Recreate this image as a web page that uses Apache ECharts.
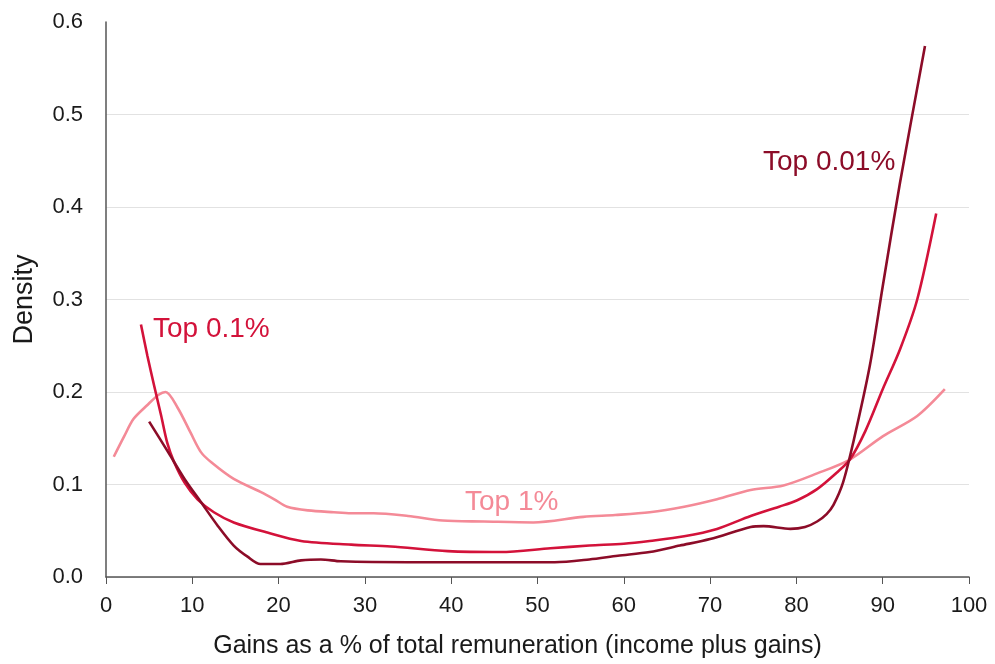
<!DOCTYPE html>
<html><head><meta charset="utf-8">
<script src="https://cdn.jsdelivr.net/npm/echarts@6/dist/echarts.min.js"></script>
<style>html,body{margin:0;padding:0;background:#fff}#c{width:995px;height:664px}</style>
</head><body><div id="c"></div>
<script>
const xTicks = [0,10,20,30,40,50,60,70,80,90,100];
const yTicks = [0,0.1,0.2,0.3,0.4,0.5,0.6];
const top1 = [[0.9,0.13],[2.1,0.152],[3.2,0.171],[4.8,0.186],[6.1,0.197],[6.9,0.2],[8.3,0.183],[9.8,0.156],[11,0.135],[12.2,0.124],[14.8,0.106],[17.9,0.092],[19.5,0.084],[21,0.076],[23.4,0.072],[26.4,0.07],[28.4,0.069],[31,0.069],[35,0.066],[39,0.061],[43.8,0.06],[49.5,0.059],[55.3,0.065],[59,0.067],[63,0.07],[67,0.076],[70.8,0.084],[74.7,0.094],[78.5,0.099],[82.4,0.112],[86.2,0.127],[90,0.152],[94,0.174],[97.2,0.203]];
const top01 = [[4.05,0.273],[4.8,0.239],[5.6,0.206],[6.4,0.174],[7.1,0.145],[7.9,0.124],[9.1,0.102],[10.6,0.084],[12.5,0.07],[14.8,0.059],[18.7,0.048],[22.6,0.039],[28.4,0.035],[33,0.033],[39.6,0.028],[45.7,0.027],[51.5,0.031],[56,0.034],[60,0.036],[63,0.039],[67,0.044],[70.8,0.052],[74.7,0.066],[78,0.076],[80.1,0.083],[82.4,0.095],[84.7,0.113],[86.2,0.127],[88,0.158],[90,0.203],[92,0.246],[94,0.3],[96.2,0.393]];
const top001 = [[5,0.168],[7.2,0.135],[9.1,0.106],[11,0.081],[12.9,0.056],[14.8,0.034],[16.4,0.022],[17.9,0.014],[20.2,0.014],[22.6,0.018],[24.9,0.019],[27.2,0.017],[35,0.016],[45,0.016],[52,0.016],[56,0.019],[59.3,0.023],[63,0.027],[66.5,0.034],[70,0.041],[74.7,0.054],[76.2,0.055],[79.3,0.052],[81,0.054],[82.4,0.06],[83.5,0.068],[84.3,0.078],[85.4,0.102],[86.6,0.146],[88.5,0.228],[90,0.314],[92,0.426],[94.9,0.574]];
const names = ['Top 1%','Top 0.1%','Top 0.01%'];
const colors = ['#f48a97','#d3123a','#8c0c28'];
const font = 'Liberation Sans, Arial, sans-serif';
const chart = echarts.init(document.getElementById('c'));
const mk = (name, data, color) => ({
  type:'line', name, data, smooth:0.3, showSymbol:false, symbol:'none',
  lineStyle:{color, width:2.6}, z: 3
});
chart.setOption({
  animation:false,
  backgroundColor:'#fff',
  grid:{left:106,right:26,top:22,bottom:86},
  xAxis:{type:'value',min:xTicks[0],max:xTicks[xTicks.length-1],interval:10,
    name:'Gains as a % of total remuneration (income plus gains)',nameLocation:'middle',nameGap:57,
    nameTextStyle:{fontFamily:font,fontSize:25,color:'#1a1a1a',padding:[0,40,0,0]},
    axisLine:{lineStyle:{color:'#555',width:1.5}},
    axisTick:{show:true,length:7,lineStyle:{color:'#555'}},
    axisLabel:{fontFamily:font,fontSize:22,color:'#1a1a1a',margin:18},
    splitLine:{show:false}},
  yAxis:{type:'value',min:yTicks[0],max:yTicks[yTicks.length-1],interval:0.1,
    name:'Density',nameLocation:'middle',nameGap:68,nameRotate:90,
    nameTextStyle:{fontFamily:font,fontSize:27,color:'#1a1a1a'},
    axisLine:{show:true,lineStyle:{color:'#555',width:1.5}},
    axisTick:{show:false},
    axisLabel:{fontFamily:font,fontSize:22,color:'#1a1a1a',margin:23,formatter:v=>v.toFixed(1)},
    splitLine:{show:true,lineStyle:{color:['#e2e2e2','#e2e2e2','#e2e2e2','#e2e2e2','#e2e2e2','#e2e2e2','rgba(0,0,0,0)'],width:1.2}}},
  series:[mk(names[0],top1,colors[0]),mk(names[1],top01,colors[1]),mk(names[2],top001,colors[2])],
  graphic:[
    {type:'text',x:153,y:329,style:{text:names[1],fill:colors[1],font:'28px '+font,verticalAlign:'middle'}},
    {type:'text',x:465,y:502,style:{text:names[0],fill:colors[0],font:'28px '+font,verticalAlign:'middle'}},
    {type:'text',x:763,y:162,style:{text:names[2],fill:colors[2],font:'28px '+font,verticalAlign:'middle'}}
  ]
});
</script></body></html>
